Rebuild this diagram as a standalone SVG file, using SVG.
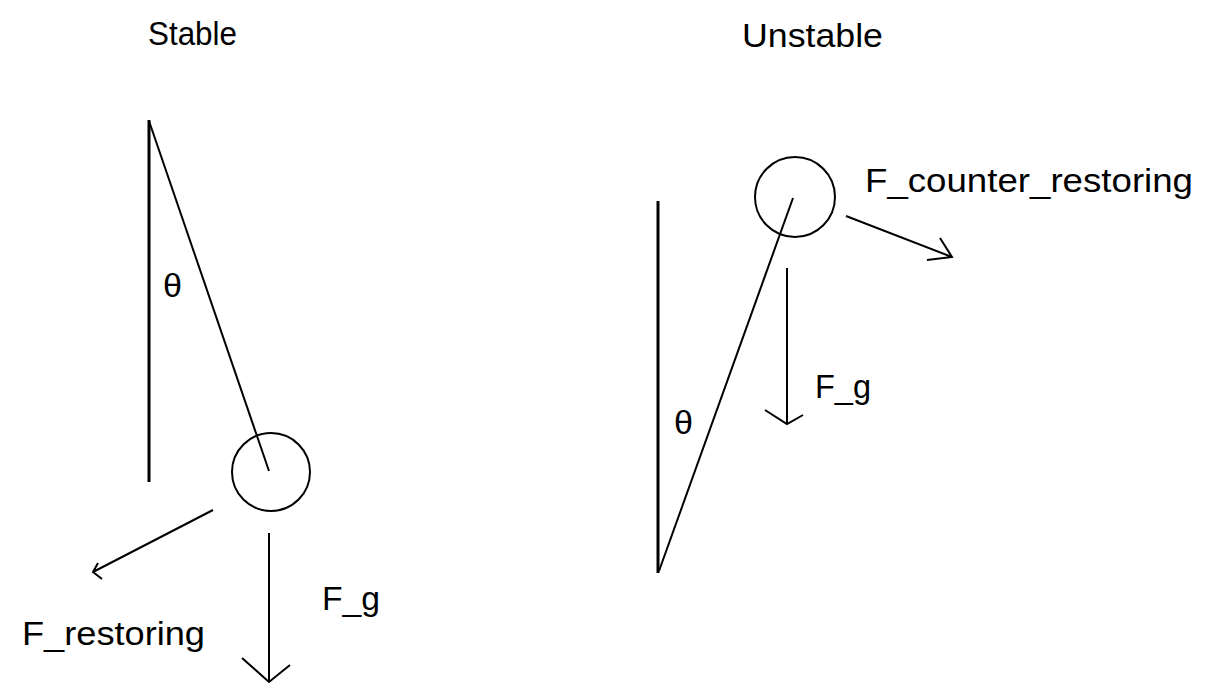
<svg xmlns="http://www.w3.org/2000/svg" width="1205" height="691" viewBox="0 0 1205 691">
<style>
.t{font-family:"Liberation Sans",Arial,sans-serif;font-size:34px;fill:#000}
.ln{stroke:#000;stroke-width:2;fill:none}
.pole{stroke:#000;stroke-width:3;fill:none}
.bob{stroke:#000;stroke-width:2;fill:none}
</style>
<rect width="1205" height="691" fill="#fff"/>
<g id="stable">
<text class="t" x="148" y="45" textLength="89" lengthAdjust="spacingAndGlyphs">Stable</text>
<line class="pole" x1="149" y1="120" x2="149" y2="482"/>
<line class="ln" x1="149" y1="121" x2="269" y2="471"/>
<circle class="bob" cx="271" cy="472" r="39"/>
<text class="t" x="163" y="297" textLength="19" lengthAdjust="spacingAndGlyphs">θ</text>
<text class="t" x="22" y="645" textLength="183" lengthAdjust="spacingAndGlyphs">F_restoring</text>
<text class="t" x="322" y="610" textLength="58" lengthAdjust="spacingAndGlyphs">F_g</text>
</g>
<g id="unstable">
<text class="t" x="742" y="47" textLength="141" lengthAdjust="spacingAndGlyphs">Unstable</text>
<line class="pole" x1="658" y1="201" x2="658" y2="573"/>
<line class="ln" x1="659" y1="571" x2="793" y2="198"/>
<circle class="bob" cx="795" cy="197" r="40"/>
<text class="t" x="674" y="434" textLength="19" lengthAdjust="spacingAndGlyphs">θ</text>
<text class="t" x="865" y="192" textLength="328" lengthAdjust="spacingAndGlyphs">F_counter_restoring</text>
<text class="t" x="815" y="398" textLength="56" lengthAdjust="spacingAndGlyphs">F_g</text>
</g>
<g id="connectors">
<path class="ln" d="M213,510 L93,572 M98,563 L93,572 L102,579"/>
<path class="ln" d="M269,533 L269,682 M242,658 L269,682 L290,665"/>
<path class="ln" d="M846,216 L952,257 M940,238 L952,257 L927,260"/>
<path class="ln" d="M787,268 L787,424 M765,410 L787,424 L803,415"/>
</g>
</svg>
